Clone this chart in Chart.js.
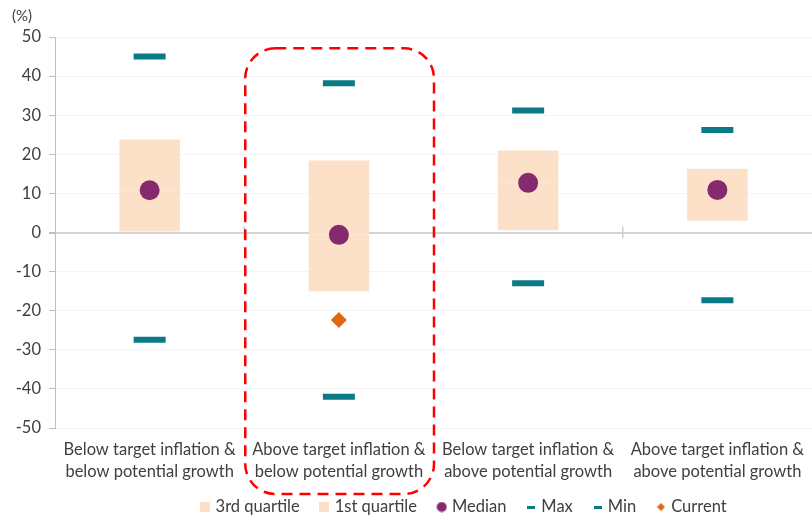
<!DOCTYPE html>
<html>
<head>
<meta charset="utf-8">
<script src="https://cdn.jsdelivr.net/npm/chart.js@4.4.3/dist/chart.umd.min.js"></script>
<style>
  html, body { margin: 0; padding: 0; background: #ffffff; }
  #wrap { width: 812px; height: 515px; position: relative; }
</style>
</head>
<body>
<div id="wrap"><canvas id="chart"></canvas></div>
<script>
const categories = [
  ["Below target inflation &", "below potential growth"],
  ["Above target inflation &", "below potential growth"],
  ["Below target inflation &", "above potential growth"],
  ["Above target inflation &", "above potential growth"],
];
const firstQuartile = [0, -15, 0.6, 3];
const medianValues = [10.8, -0.6, 12.7, 10.9];
const thirdQuartile = [23.8, 18.4, 21, 16.3];
const maxValues = [45, 38.2, 31.2, 26.2];
const minValues = [-27.4, -42, -13, -17.3];
const currentValues = [null, -22.4, null, null];
const yTicks = [-50, -40, -30, -20, -10, 0, 10, 20, 30, 40, 50];

const PEACH = "#fde0c8";
const PURPLE = "#852a6f";
const TEAL = "#0b7a85";
const ORANGE = "#e0670f";
const FONT = "Lato, 'Liberation Sans', sans-serif";

const lowerBox = firstQuartile.map((q, i) => [q, medianValues[i]]);
const upperBox = thirdQuartile.map((q, i) => [medianValues[i], q]);

// small legend icons, Excel style
function makeIcon(kind, color) {
  const c = document.createElement("canvas");
  const g = c.getContext("2d");
  if (kind === "square") {
    c.width = 10; c.height = 10;
    g.fillStyle = color;
    g.fillRect(0, 0, 10, 10);
  } else if (kind === "circle") {
    c.width = 11; c.height = 11;
    g.fillStyle = color;
    g.beginPath();
    g.arc(5.5, 5.5, 5, 0, Math.PI * 2);
    g.fill();
  } else if (kind === "dash") {
    c.width = 8; c.height = 3;
    g.fillStyle = color;
    g.fillRect(0, 0, 8, 3);
  } else {
    c.width = 9; c.height = 9;
    g.fillStyle = color;
    g.beginPath();
    g.moveTo(4.5, 0.5);
    g.lineTo(8.5, 4.5);
    g.lineTo(4.5, 8.5);
    g.lineTo(0.5, 4.5);
    g.closePath();
    g.fill();
  }
  return c;
}
const legendIcons = [
  makeIcon("square", PEACH),
  makeIcon("square", PEACH),
  makeIcon("circle", PURPLE),
  makeIcon("dash", TEAL),
  makeIcon("dash", TEAL),
  makeIcon("diamond", ORANGE),
];

// extra bits Excel draws: (%) label, cross ticks on the zero line, highlight box
const decorations = {
  id: "decorations",
  afterLayout(chart) {
    // legend in the original sits right of centre and tucked up under the labels
    if (chart.legend) {
      chart.legend.left += 59;
      chart.legend.right += 59;
      chart.legend.top -= 8;
      chart.legend.bottom -= 8;
    }
  },
  beforeDatasetsDraw(chart) {
    const { ctx, scales } = chart;
    const x = scales.x;
    const y0 = scales.y.getPixelForValue(0);
    ctx.save();
    ctx.strokeStyle = "#d0d0d0";
    ctx.lineWidth = 1.5;
    for (let i = 0; i < categories.length - 1; i++) {
      const bx = (x.getPixelForValue(i) + x.getPixelForValue(i + 1)) / 2;
      ctx.beginPath();
      ctx.moveTo(bx, y0 - 6);
      ctx.lineTo(bx, y0 + 6);
      ctx.stroke();
    }
    ctx.restore();
  },
  afterDraw(chart) {
    const { ctx, scales, chartArea } = chart;
    const x = scales.x;
    const y = scales.y;
    ctx.save();
    ctx.fillStyle = "#404040";
    ctx.font = `15px ${FONT}`;
    ctx.textAlign = "left";
    ctx.textBaseline = "middle";
    ctx.fillText("(%)", 12, chartArea.top - 21);

    const left = (x.getPixelForValue(0) + x.getPixelForValue(1)) / 2 + 1;
    const right = (x.getPixelForValue(1) + x.getPixelForValue(2)) / 2 + 0.5;
    const top = y.getPixelForValue(47.1);
    const bottom = chartArea.bottom + 66;
    ctx.strokeStyle = "#ff0000";
    ctx.lineWidth = 2.5;
    ctx.setLineDash([11, 7]);
    ctx.beginPath();
    ctx.roundRect(left, top, right - left, bottom - top, 30);
    ctx.stroke();
    ctx.restore();
  },
};

new Chart(document.getElementById("chart"), {
  data: {
    labels: categories,
    datasets: [
      {
        type: "bar",
        label: "3rd quartile",
        data: upperBox,
        backgroundColor: PEACH,
        grouped: false,
        barPercentage: 0.32,
        categoryPercentage: 1,
        order: 2,
      },
      {
        type: "bar",
        label: "1st quartile",
        data: lowerBox,
        backgroundColor: PEACH,
        grouped: false,
        barPercentage: 0.32,
        categoryPercentage: 1,
        order: 2,
      },
      {
        type: "line",
        label: "Median",
        data: medianValues,
        showLine: false,
        pointStyle: "circle",
        pointRadius: 10,
        pointBorderWidth: 0,
        pointBackgroundColor: PURPLE,
        pointBorderColor: PURPLE,
        backgroundColor: PURPLE,
        borderColor: PURPLE,
        order: 1,
      },
      {
        type: "line",
        label: "Max",
        data: maxValues,
        showLine: false,
        pointStyle: "line",
        pointRadius: 16,
        pointBorderWidth: 6,
        pointBorderColor: TEAL,
        borderColor: TEAL,
        backgroundColor: TEAL,
        order: 1,
      },
      {
        type: "line",
        label: "Min",
        data: minValues,
        showLine: false,
        pointStyle: "line",
        pointRadius: 16,
        pointBorderWidth: 6,
        pointBorderColor: TEAL,
        borderColor: TEAL,
        backgroundColor: TEAL,
        order: 1,
      },
      {
        type: "line",
        label: "Current",
        data: currentValues,
        showLine: false,
        pointStyle: "rectRot",
        pointRadius: 8,
        pointBorderWidth: 0,
        pointBackgroundColor: ORANGE,
        pointBorderColor: ORANGE,
        backgroundColor: ORANGE,
        borderColor: ORANGE,
        order: 1,
      },
    ],
  },
  options: {
    responsive: true,
    maintainAspectRatio: false,
    animation: false,
    layout: {
      autoPadding: false,
      padding: { top: 37, right: 0, bottom: -18.25, left: 0 },
    },
    scales: {
      x: {
        type: "category",
        offset: true,
        grid: { display: false },
        border: { display: false },
        ticks: {
          color: "#404040",
          font: { family: FONT, size: 16.5, lineHeight: 1.33 },
          maxRotation: 0,
          autoSkip: false,
          padding: 3,
        },
        afterFit(scale) {
          scale.height = 56;
          scale.paddingLeft = 0;
          scale.paddingRight = 0;
        },
      },
      y: {
        min: -50,
        max: 50,
        afterBuildTicks(scale) {
          scale.ticks = yTicks.map((value) => ({ value }));
        },
        grid: {
          color(context) {
            return context.tick && context.tick.value === 0 ? "#d4d4d4" : "#f5f5f5";
          },
          lineWidth(context) {
            return context.tick && context.tick.value === 0 ? 2 : 1;
          },
          tickColor: "#bfbfbf",
          tickLength: 6,
        },
        border: { color: "#bfbfbf", width: 1 },
        ticks: {
          color: "#404040",
          font: { family: FONT, size: 16.5 },
          padding: 8,
        },
        afterFit(scale) {
          scale.width = 55;
        },
      },
    },
    plugins: {
      legend: {
        position: "bottom",
        labels: {
          usePointStyle: true,
          pointStyleWidth: 4,
          boxHeight: 10,
          color: "#404040",
          font: { family: FONT, size: 16.5 },
          padding: 22.75,
          sort(a, b) {
            return a.datasetIndex - b.datasetIndex;
          },
          generateLabels(chart) {
            const items = Chart.defaults.plugins.legend.labels.generateLabels(chart);
            items.forEach((item) => {
              item.pointStyle = legendIcons[item.datasetIndex];
              item.lineWidth = 0;
            });
            return items;
          },
        },
      },
      tooltip: { enabled: false },
    },
  },
  plugins: [decorations],
});
</script>
</body>
</html>
